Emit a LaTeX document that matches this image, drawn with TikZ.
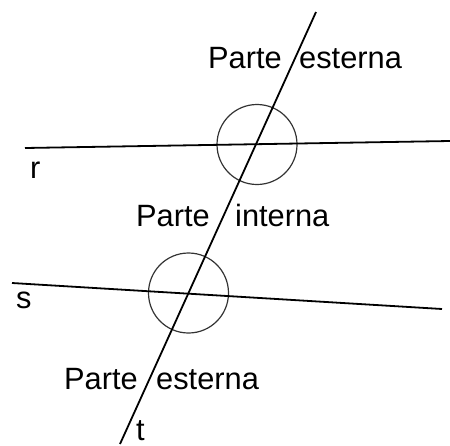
\documentclass[tikz,border=0pt]{standalone}
\usepackage{fontspec}
\setmainfont{Liberation Sans}
\begin{document}
\begin{tikzpicture}[x=1pt,y=-1pt,
  lbl/.style={anchor=base west,inner sep=0pt,font=\fontsize{30.8}{32}\selectfont},
  ln/.style={line width=1.8pt,black},
  ring/.style={draw=black!80,line width=1.2pt,circle,minimum size=80pt,inner sep=0pt}]
\useasboundingbox (0,0) rectangle (450,445);
% endpoints
\coordinate (tA) at (316,12);
\coordinate (tB) at (120,444);
\coordinate (rA) at (25,148);
\coordinate (rB) at (450,141);
\coordinate (sA) at (12,283);
\coordinate (sB) at (442,309);
% circles
\node[ring] (c1) at (257,144.5) {};
\node[ring] (c2) at (188.5,293) {};
% lines
\draw[ln] (rA) -- (rB);
\draw[ln] (sA) -- (sB);
\draw[ln] (tA) -- (tB);
% labels
\node[lbl] (pe1) at (208,68) {Parte};
\node[lbl] (es1) at (299,68) {esterna};
\node[lbl] (pi) at (136,226) {Parte};
\node[lbl] (in) at (235,226) {interna};
\node[lbl] (pe2) at (64,389) {Parte};
\node[lbl] (es2) at (156,389) {esterna};
\node[lbl] (lr) at (30,178) {r};
\node[lbl] (ls) at (16,308) {s};
\node[lbl] (lt) at (136,440) {t};
\end{tikzpicture}
\end{document}
